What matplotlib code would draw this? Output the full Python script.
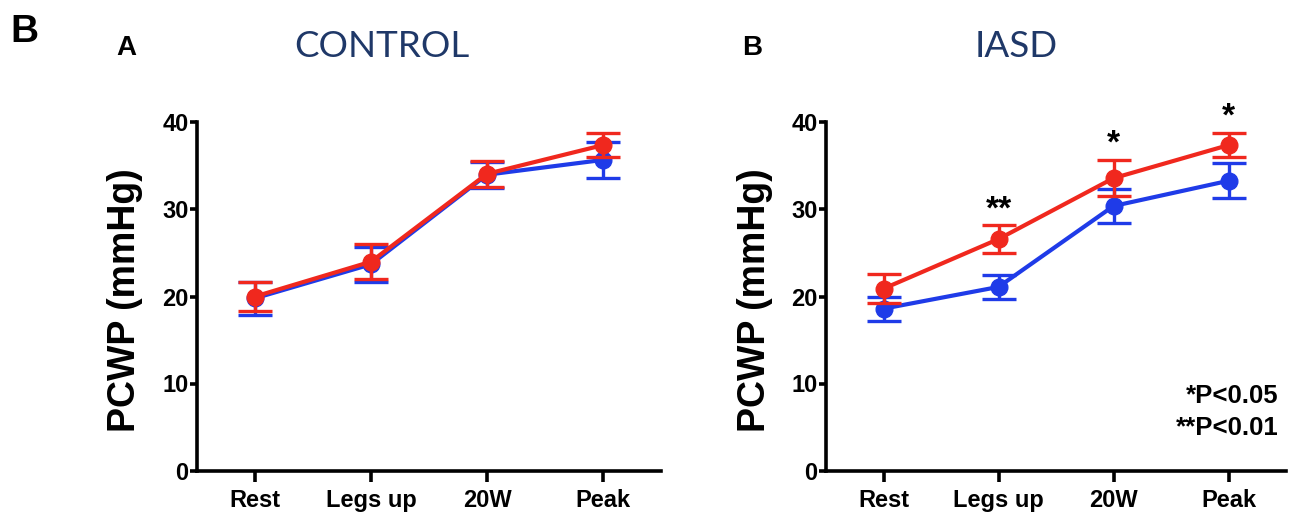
import matplotlib
matplotlib.use("Agg")
import matplotlib.pyplot as plt
import numpy as np

# ---------------- data ----------------
stages = ["Rest", "Legs up", "20W", "Peak"]

control_blue = [19.8, 23.7, 34.0, 35.7]
control_blue_err = [1.9, 2.0, 1.5, 2.1]
control_red = [20.0, 24.0, 34.1, 37.4]
control_red_err = [1.7, 2.0, 1.5, 1.4]

iasd_blue = [18.6, 21.1, 30.4, 33.3]
iasd_blue_err = [1.4, 1.4, 1.9, 2.0]
iasd_red = [20.9, 26.6, 33.6, 37.4]
iasd_red_err = [1.7, 1.6, 2.1, 1.4]

iasd_stars = ["", "**", "*", "*"]

panel_titles = ["CONTROL", "IASD"]
panel_letters = ["A", "B"]
y_ticks = [0, 10, 20, 30, 40]
ylabel = "PCWP (mmHg)"
pnotes = ["*P<0.05", "**P<0.01"]

# ---------------- style ----------------
BLUE = "#1f3be8"
RED = "#f0281e"
NAVY = "#1f3868"
FONT = "Liberation Sans"

W, H = 1293, 517
fig = plt.figure(figsize=(W / 100, H / 100), dpi=100)

def px_axes(x0, x1, ytop, ybot):
    return fig.add_axes([x0 / W, 1 - ybot / H, (x1 - x0) / W, (ybot - ytop) / H])

axL = px_axes(197, 661, 122.5, 470.5)
axR = px_axes(826, 1286, 122.5, 470.5)

def draw(ax, blue, berr, red, rerr):
    x = np.arange(len(stages))
    common = dict(lw=3.0, marker="o", ms=12, capsize=12, capthick=2.4,
                  elinewidth=2.4, clip_on=False)
    ax.errorbar(x, blue, yerr=berr, color=BLUE, zorder=3, **common)
    ax.errorbar(x, red, yerr=rerr, color=RED, zorder=4, **common)
    ax.set_xlim(-0.5, 3.5)
    ax.set_ylim(0, 40)
    ax.set_yticks(y_ticks)
    ax.set_xticks(x)
    ax.set_xticklabels(stages, fontsize=17, fontweight="bold", family=FONT)
    ax.set_yticklabels([str(t) for t in y_ticks], fontsize=17,
                       fontweight="bold", family=FONT)
    for s in ["top", "right"]:
        ax.spines[s].set_visible(False)
    for s in ["left", "bottom"]:
        ax.spines[s].set_linewidth(2.6)
    ax.tick_params(axis="x", length=8, width=2.6, pad=5)
    ax.tick_params(axis="y", length=5, width=2.6, pad=1.0)
    ax.set_ylabel(ylabel, fontsize=27, fontweight="bold", family=FONT,
                  va="center")
    ax.yaxis.set_label_coords(-0.155, 0.49)

draw(axL, control_blue, control_blue_err, control_red, control_red_err)
draw(axR, iasd_blue, iasd_blue_err, iasd_red, iasd_red_err)

# significance stars
for i, s in enumerate(iasd_stars):
    if s:
        axR.annotate(s, xy=(i, iasd_red[i] + iasd_red_err[i]), xytext=(0, 5),
                     textcoords="offset points", ha="center", va="baseline",
                     fontsize=24, fontweight="bold", family=FONT,
                     annotation_clip=False)

axR.text(0.983, 0.194, pnotes[0], transform=axR.transAxes, ha="right",
         va="baseline", fontsize=18.5, fontweight="bold", family=FONT)
axR.text(0.983, 0.102, pnotes[1], transform=axR.transAxes, ha="right",
         va="baseline", fontsize=18.5, fontweight="bold", family=FONT)

# titles
fig.text(381.5 / W, 1 - 57 / H, panel_titles[0], ha="center", va="baseline",
         fontsize=26.5, color=NAVY, family="Lato")
fig.text(1016 / W, 1 - 57 / H, panel_titles[1], ha="center", va="baseline",
         fontsize=26.5, color=NAVY, family="Lato")

# panel letters
fig.text(10 / W, 1 - 42 / H, "B", ha="left", va="baseline", fontsize=28,
         fontweight="bold", family=FONT)
fig.text(116 / W, 1 - 55 / H, panel_letters[0], ha="left", va="baseline",
         fontsize=20, fontweight="bold", family=FONT)
fig.text(742 / W, 1 - 55 / H, panel_letters[1], ha="left", va="baseline",
         fontsize=20, fontweight="bold", family=FONT)

fig.savefig("out.png", dpi=100)
